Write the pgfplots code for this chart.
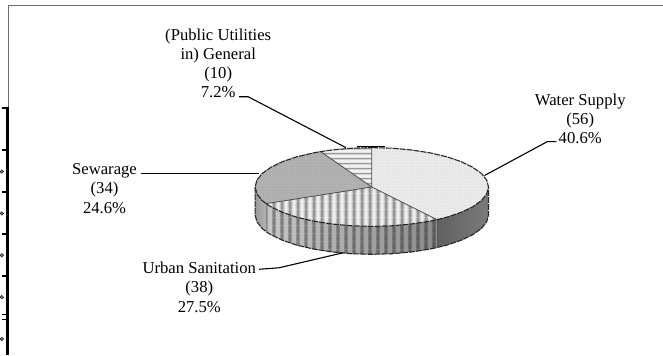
\documentclass[border=0pt]{standalone}
\usepackage{pgfplots}
\pgfplotsset{compat=1.18}
\usepackage{fontspec}
\setmainfont{Liberation Serif}
\usetikzlibrary{patterns}

% Fill textures for the pie faces
\pgfdeclarepatterninherentlycolored{topstripes}{\pgfqpoint{0bp}{0bp}}{\pgfqpoint{8.2bp}{8.2bp}}{\pgfqpoint{8.2bp}{8.2bp}}{
  \definecolor{sa}{gray}{0.93}\definecolor{sb}{gray}{0.78}\definecolor{sc}{gray}{0.58}
  \pgfsetfillcolor{sa}\pgfpathrectangle{\pgfqpoint{0bp}{0bp}}{\pgfqpoint{8.2bp}{8.2bp}}\pgfusepath{fill}
  \pgfsetfillcolor{sb}\pgfpathrectangle{\pgfqpoint{3bp}{0bp}}{\pgfqpoint{5.2bp}{8.2bp}}\pgfusepath{fill}
  \pgfsetfillcolor{sc}\pgfpathrectangle{\pgfqpoint{4.2bp}{0bp}}{\pgfqpoint{2.8bp}{8.2bp}}\pgfusepath{fill}
}
\pgfdeclarepatternformonly{sidestripes}{\pgfqpoint{0bp}{0bp}}{\pgfqpoint{8.2bp}{8.2bp}}{\pgfqpoint{8.2bp}{8.2bp}}{
  \pgfpathrectangle{\pgfqpoint{3.6bp}{0bp}}{\pgfqpoint{3.8bp}{8.2bp}}\pgfusepath{fill}
}
\pgfdeclarepatterninherentlycolored{topbars}{\pgfqpoint{0bp}{0bp}}{\pgfqpoint{5bp}{5bp}}{\pgfqpoint{5bp}{5bp}}{
  \definecolor{ba}{gray}{0.95}\definecolor{bb}{gray}{0.60}
  \pgfsetfillcolor{ba}\pgfpathrectangle{\pgfqpoint{0bp}{0bp}}{\pgfqpoint{5bp}{5bp}}\pgfusepath{fill}
  \pgfsetfillcolor{bb}\pgfpathrectangle{\pgfqpoint{0bp}{1.6bp}}{\pgfqpoint{5bp}{1.6bp}}\pgfusepath{fill}
}
\pgfdeclarepatternformonly{finegrain}{\pgfqpoint{0bp}{0bp}}{\pgfqpoint{3bp}{3bp}}{\pgfqpoint{3bp}{3bp}}{
  \pgfpathrectangle{\pgfqpoint{0bp}{0bp}}{\pgfqpoint{1.3bp}{1.3bp}}\pgfusepath{fill}
}

\begin{document}
\begin{tikzpicture}
\begin{axis}[
  scale only axis, x=1bp, y=1bp, y dir=reverse,
  xmin=0, xmax=663, ymin=0, ymax=356,
  hide axis, clip=true,
]
% page background
\addplot[draw=none, fill=white] coordinates {(0,0) (663,0) (663,356) (0,356)} -- cycle;

% frame of the chart area
\addplot[draw=gray!85!black, line width=1.1bp, no markers] coordinates {(7,108) (7,5.3) (663,5.3)};

% edge of the neighbouring table
\addplot[black, line width=2.6bp, no markers] coordinates {(6,107.5) (6,356)};
\addplot[black, line width=2.2bp, no markers] coordinates {(0,108.5) (6,108.5)};
\addplot[black, line width=2.2bp, no markers] coordinates {(0,150.5) (6,150.5)};
\addplot[black, line width=2.2bp, no markers] coordinates {(0,192.5) (6,192.5)};
\addplot[black, line width=2.2bp, no markers] coordinates {(0,234.5) (6,234.5)};
\addplot[black, line width=2.2bp, no markers] coordinates {(0,276.5) (6,276.5)};
\addplot[black, line width=1.5bp, no markers] coordinates {(0,315.5) (6,315.5)};
\addplot[black, line width=1.5bp, no markers] coordinates {(0,320.5) (6,320.5)};
\addplot[only marks, mark=*, mark size=1.8bp, draw=none, fill=gray] coordinates {(0,172) (0,214) (0,256) (0,298) (0,340)};

% side wall: Sewerage
\addplot[draw=none, left color=black!40, right color=black!30] coordinates {
 (254,187.5) (255.8,194.4) (261,201) (265,204.2)
 (265,232.2) (261,229) (255.8,222.4) (254,215.5)} -- cycle;
% side wall: Urban Sanitation
\addplot[draw=none, left color=black!22, right color=black!46] coordinates {
 (265,204.2) (269.7,207.3) (281.4,212.9) (295.8,217.8) (312.5,221.7) (331,224.6) (350.7,226.4) (371,227)
 (391.3,226.4) (411,224.6) (429.5,221.7) (436.4,220.2)
 (436.4,248.2) (429.5,249.7) (411,252.6) (391.3,254.4) (371,255) (350.7,254.4) (331,252.6) (312.5,249.7)
 (295.8,245.8) (281.4,240.9) (269.7,235.3) (265,232.2)} -- cycle;
\addplot[draw=none, pattern=sidestripes, pattern color=black, opacity=0.35] coordinates {
 (265,204.2) (269.7,207.3) (281.4,212.9) (295.8,217.8) (312.5,221.7) (331,224.6) (350.7,226.4) (371,227)
 (391.3,226.4) (411,224.6) (429.5,221.7) (436.4,220.2)
 (436.4,248.2) (429.5,249.7) (411,252.6) (391.3,254.4) (371,255) (350.7,254.4) (331,252.6) (312.5,249.7)
 (295.8,245.8) (281.4,240.9) (269.7,235.3) (265,232.2)} -- cycle;
% side wall: Water Supply
\addplot[draw=none, left color=black!62, right color=black!52] coordinates {
 (436.4,220.2) (446.2,217.8) (460.6,212.9) (472.3,207.3) (481,201) (486.2,194.4) (488,187.5)
 (488,215.5) (486.2,222.4) (481,229) (472.3,235.3) (460.6,240.9) (446.2,245.8) (436.4,248.2)} -- cycle;

% outline of the wall
\addplot[black!85, line width=1.1bp, dash pattern=on 6bp off 1bp, no markers] coordinates {
 (254,187.5) (254,215.5) (255.8,222.4) (261,229) (265,232.2) (269.7,235.3) (281.4,240.9) (295.8,245.8) (312.5,249.7)
 (331,252.6) (350.7,254.4) (371,255) (391.3,254.4) (411,252.6) (429.5,249.7) (436.4,248.2) (446.2,245.8)
 (460.6,240.9) (472.3,235.3) (481,229) (486.2,222.4) (488,215.5) (488,187.5)};
\addplot[black!65, line width=0.8bp, no markers] coordinates {(436.4,220.2) (436.4,248.2)};
\addplot[black!45, line width=0.6bp, no markers] coordinates {(265,204.2) (265,232.2)};

% top face: Water Supply, 40.6 %
\addplot[draw=none, fill=black!8] coordinates {
 (371,187.5) (371,148) (391.3,148.6) (411,150.4) (429.5,153.3) (446.2,157.2) (460.6,162.1) (472.3,167.8) (481,174)
 (486.2,180.6) (488,187.5) (486.2,194.4) (481,201) (472.3,207.3) (460.6,212.9) (446.2,217.8) (436.4,220.2)} -- cycle;
\addplot[draw=none, pattern=finegrain, pattern color=black!12] coordinates {
 (371,187.5) (371,148) (391.3,148.6) (411,150.4) (429.5,153.3) (446.2,157.2) (460.6,162.1) (472.3,167.8) (481,174)
 (486.2,180.6) (488,187.5) (486.2,194.4) (481,201) (472.3,207.3) (460.6,212.9) (446.2,217.8) (436.4,220.2)} -- cycle;
% top face: Urban Sanitation, 27.5 %
\addplot[draw=none, pattern=topstripes] coordinates {
 (371,187.5) (436.4,220.2) (429.5,221.7) (411,224.6) (391.3,226.4) (371,227) (350.7,226.4) (331,224.6) (312.5,221.7)
 (295.8,217.8) (281.4,212.9) (269.7,207.3) (265,204.2)} -- cycle;
% top face: Sewerage, 24.6 %
\addplot[draw=none, fill=black!30] coordinates {
 (371,187.5) (265,204.2) (261,201) (255.8,194.4) (254,187.5) (255.8,180.6) (261,174) (269.7,167.8) (281.4,162.1)
 (295.8,157.2) (312.5,153.3) (319.7,152)} -- cycle;
\addplot[draw=none, pattern=finegrain, pattern color=black!34] coordinates {
 (371,187.5) (265,204.2) (261,201) (255.8,194.4) (254,187.5) (255.8,180.6) (261,174) (269.7,167.8) (281.4,162.1)
 (295.8,157.2) (312.5,153.3) (319.7,152)} -- cycle;
% top face: (Public Utilities in) General, 7.2 %
\addplot[draw=none, pattern=topbars] coordinates {
 (371,187.5) (319.7,152) (331,150.4) (350.7,148.6) (371,148)} -- cycle;

% slice borders
\addplot[black!70, line width=0.8bp, no markers] coordinates {(371,148) (371,187.5) (436.4,220.2)};
\addplot[black!70, line width=0.8bp, no markers] coordinates {(265,204.2) (371,187.5) (319.7,152)};

% rim of the top face
\addplot[black!85, line width=1.1bp, dash pattern=on 6bp off 1bp, no markers] coordinates {
 (371,148) (391.3,148.6) (411,150.4) (429.5,153.3) (446.2,157.2) (460.6,162.1) (472.3,167.8) (481,174) (486.2,180.6)
 (488,187.5) (486.2,194.4) (481,201) (472.3,207.3) (460.6,212.9) (446.2,217.8) (436.4,220.2) (429.5,221.7) (411,224.6)
 (391.3,226.4) (371,227) (350.7,226.4) (331,224.6) (312.5,221.7) (295.8,217.8) (281.4,212.9) (269.7,207.3) (265,204.2)
 (261,201) (255.8,194.4) (254,187.5) (255.8,180.6) (261,174) (269.7,167.8) (281.4,162.1) (295.8,157.2) (312.5,153.3)
 (319.7,152) (331,150.4) (350.7,148.6) (371,148)};

% leader lines
\addplot[black, line width=1.1bp, no markers] coordinates {(238,97) (247,97) (345,148)};
\addplot[black, line width=1.1bp, no markers] coordinates {(556,142) (547,142) (484,176)};
\addplot[black, line width=1.4bp, no markers] coordinates {(140,174) (258,174)};
\addplot[black, line width=1.1bp, no markers] coordinates {(258,270) (278,268.5) (342,253.5)};
\addplot[black, line width=1.2bp, no markers] coordinates {(356,147) (384,147)};

% slice labels
\tikzset{lbl/.style={align=center, anchor=center, inner sep=0pt, text=black, font=\fontsize{16.7bp}{19.3bp}\selectfont}}
\node[lbl] at (axis cs:217,63.5) {(Public Utilities\\in) General\\(10)\\7.2\%};
\node[lbl] at (axis cs:580,119) {Water Supply\\(56)\\40.6\%};
\node[lbl] at (axis cs:103,189) {Sewarage\\(34)\\24.6\%};
\node[lbl] at (axis cs:198,288) {Urban Sanitation\\(38)\\27.5\%};
\end{axis}
\end{tikzpicture}
\end{document}
